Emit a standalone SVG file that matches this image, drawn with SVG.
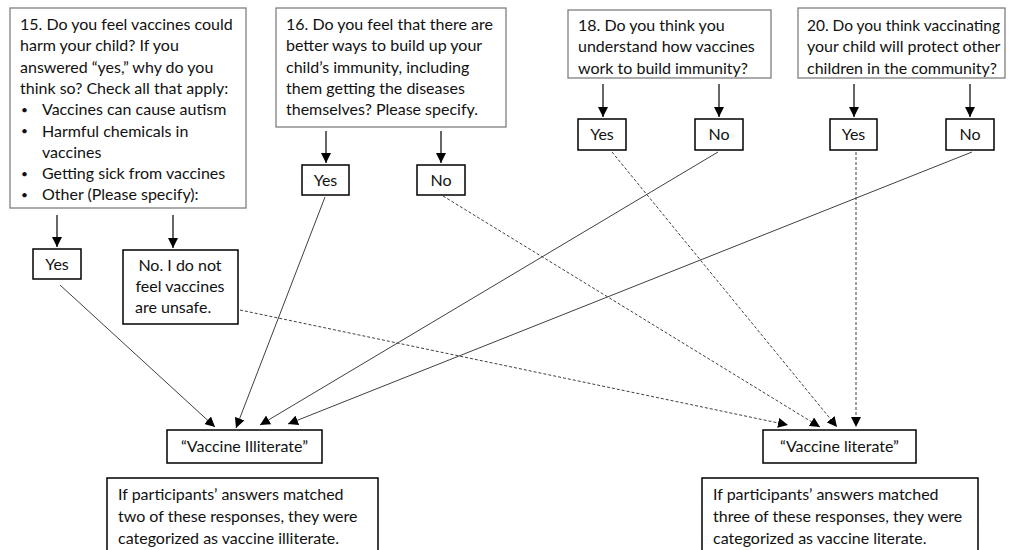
<svg xmlns="http://www.w3.org/2000/svg" width="1010" height="550" viewBox="0 0 1010 550">
<defs>
<marker id="ah" markerUnits="userSpaceOnUse" markerWidth="10" markerHeight="10" viewBox="0 0 10 10" refX="10" refY="5" orient="auto">
<path d="M0,0 L10,5 L0,10 Z" fill="#000"/>
</marker>
<style>
text{font-family:"Lato","Liberation Sans",sans-serif;font-size:16px;fill:#111}
.b{font-size:12px}
.q{fill:#fff;stroke:#7f7f7f;stroke-width:1.3}
.a{fill:#fff;stroke:#000;stroke-width:1.5}
.c{text-anchor:middle}
.v{stroke:#000;stroke-width:1.2;fill:none;marker-end:url(#ah)}
.s{stroke:#404040;stroke-width:1;fill:none;marker-end:url(#ah)}
.d{stroke:#404040;stroke-width:1;fill:none;stroke-dasharray:3 2;marker-end:url(#ah)}
</style>
</defs>
<rect width="1010" height="550" fill="#fff"/>
<g id="connectors">
<line class="v" x1="57" y1="215" x2="57" y2="247"/>
<line class="v" x1="173" y1="215" x2="173" y2="248"/>
<line class="v" x1="326" y1="131" x2="326" y2="163"/>
<line class="v" x1="441" y1="131" x2="441" y2="163"/>
<line class="v" x1="603" y1="84" x2="603" y2="117"/>
<line class="v" x1="719" y1="84" x2="719" y2="117"/>
<line class="v" x1="854" y1="84" x2="854" y2="117"/>
<line class="v" x1="970" y1="84" x2="970" y2="117"/>
<line class="s" x1="60" y1="285" x2="215" y2="427"/>
<line class="s" x1="325" y1="197" x2="236" y2="428"/>
<line class="s" x1="718" y1="152" x2="260" y2="425"/>
<line class="s" x1="972" y1="152" x2="288" y2="424"/>
<line class="d" x1="240" y1="310" x2="788" y2="425"/>
<line class="d" x1="443" y1="196" x2="820" y2="427"/>
<line class="d" x1="612" y1="152" x2="837" y2="427"/>
<line class="d" x1="856" y1="152" x2="856" y2="427"/>
</g>
<g id="q15">
<rect class="q" x="10" y="8" width="236" height="200"/>
<text x="20" y="30">15. Do you feel vaccines could</text>
<text x="20" y="51.3">harm your child? If you</text>
<text x="20" y="72.6">answered “yes,” why do you</text>
<text x="20" y="93.9">think so? Check all that apply:</text>
<text class="b" x="21" y="114">•</text><text x="42" y="115.2">Vaccines can cause autism</text>
<text class="b" x="21" y="135.3">•</text><text x="42" y="136.5">Harmful chemicals in</text>
<text x="42" y="157.8">vaccines</text>
<text class="b" x="21" y="177.9">•</text><text x="42" y="179.1">Getting sick from vaccines</text>
<text class="b" x="21" y="199.2">•</text><text x="42" y="200.4">Other (Please specify):</text>
</g>
<g id="q16">
<rect class="q" x="276" y="8" width="230" height="119"/>
<text x="286" y="30">16.  Do you feel that there are</text>
<text x="286" y="51.3">better ways to build up your</text>
<text x="286" y="72.6">child’s immunity, including</text>
<text x="286" y="93.9">them getting the diseases</text>
<text x="286" y="115.2">themselves? Please specify.</text>
</g>
<g id="q18">
<rect class="q" x="568" y="10" width="203" height="68"/>
<text x="578" y="31">18. Do you think you</text>
<text x="578" y="52.3">understand how vaccines</text>
<text x="578" y="73.6">work to build immunity?</text>
</g>
<g id="q20">
<rect class="q" x="798" y="8" width="207" height="70"/>
<text x="807" y="31" textLength="193" lengthAdjust="spacingAndGlyphs">20. Do you think vaccinating</text>
<text x="807" y="52.3">your child will protect other</text>
<text x="807" y="73.6">children in the community?</text>
</g>
<g id="yes15"><rect class="a" x="33" y="249" width="48" height="30"/><text class="c" x="57" y="270">Yes</text></g>
<g id="no15"><rect class="a" x="123" y="250" width="115" height="74"/>
<text class="c" x="180" y="271">No. I do not</text>
<text class="c" x="180" y="292">feel vaccines</text>
<text x="135" y="313">are unsafe.</text></g>
<g id="yes16"><rect class="a" x="302" y="165" width="47" height="30"/><text class="c" x="325.5" y="186">Yes</text></g>
<g id="no16"><rect class="a" x="417" y="165" width="48" height="30"/><text class="c" x="441" y="186">No</text></g>
<g id="yes18"><rect class="a" x="578" y="119" width="48" height="31"/><text class="c" x="602" y="140">Yes</text></g>
<g id="no18"><rect class="a" x="695" y="119" width="48" height="31"/><text class="c" x="719" y="140">No</text></g>
<g id="yes20"><rect class="a" x="830" y="119" width="47" height="31"/><text class="c" x="853.5" y="140">Yes</text></g>
<g id="no20"><rect class="a" x="946" y="119" width="48" height="31"/><text class="c" x="970" y="140">No</text></g>
<g id="illiterate"><rect class="a" x="167" y="430" width="155" height="33"/><text class="c" x="244.5" y="452">“Vaccine Illiterate”</text></g>
<g id="literate"><rect class="a" x="763" y="430" width="153" height="33"/><text class="c" x="839.5" y="452">“Vaccine literate”</text></g>
<g id="note-illiterate"><rect class="a" x="107" y="478" width="271" height="80"/>
<text x="118" y="500">If participants’ answers matched</text>
<text x="118" y="522">two of these responses, they were</text>
<text x="118" y="544">categorized as vaccine illiterate.</text></g>
<g id="note-literate"><rect class="a" x="702" y="478" width="276" height="80"/>
<text x="713" y="500">If participants’ answers matched</text>
<text x="713" y="522">three of these responses, they were</text>
<text x="713" y="544">categorized as vaccine literate.</text></g>
</svg>
